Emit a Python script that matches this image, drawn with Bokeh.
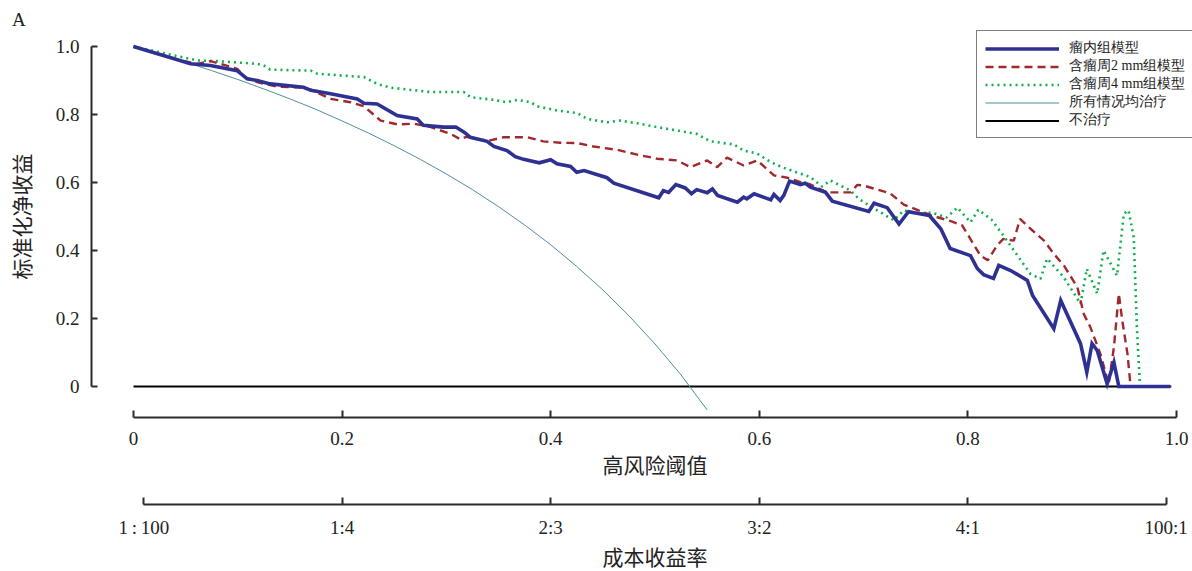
import numpy as np
from bokeh.plotting import figure
from bokeh.models import Range1d, LinearAxis, FixedTicker, Legend, LegendItem, Label
from bokeh.embed import file_html
from bokeh.resources import INLINE

# ---------------- data ----------------
intra_x = [0, 0.0547, 0.0738, 0.0994, 0.109, 0.1186, 0.131, 0.163, 0.170, 0.189, 0.2145, 0.2208,
           0.2336, 0.2528, 0.272, 0.278, 0.2975, 0.309, 0.317, 0.323, 0.339, 0.3455, 0.358, 0.366,
           0.374, 0.389, 0.400, 0.406, 0.419, 0.425, 0.432, 0.454, 0.4605, 0.5036, 0.508, 0.513,
           0.520, 0.529, 0.535, 0.540, 0.550, 0.555, 0.560, 0.579, 0.585, 0.588, 0.595, 0.611,
           0.614, 0.620, 0.6235, 0.629, 0.6395, 0.644, 0.649, 0.6635, 0.670, 0.705, 0.710, 0.7226,
           0.734, 0.743, 0.763, 0.774, 0.783, 0.8025, 0.809, 0.815, 0.8245, 0.8296, 0.841, 0.857,
           0.862, 0.8824, 0.889, 0.908, 0.914, 0.919, 0.924, 0.9335, 0.940, 0.9447, 0.994]
intra_y = [1.0, 0.949, 0.944, 0.929, 0.905, 0.900, 0.890, 0.880, 0.871, 0.861, 0.846, 0.833,
           0.831, 0.797, 0.787, 0.768, 0.763, 0.763, 0.748, 0.733, 0.721, 0.706, 0.694, 0.676,
           0.668, 0.658, 0.667, 0.655, 0.647, 0.630, 0.635, 0.614, 0.598, 0.555, 0.576, 0.571,
           0.594, 0.584, 0.567, 0.579, 0.570, 0.581, 0.562, 0.542, 0.557, 0.552, 0.567, 0.549,
           0.565, 0.547, 0.562, 0.604, 0.594, 0.598, 0.586, 0.571, 0.545, 0.515, 0.539, 0.526,
           0.478, 0.514, 0.503, 0.464, 0.406, 0.385, 0.347, 0.329, 0.318, 0.356, 0.341, 0.312,
           0.268, 0.170, 0.253, 0.126, 0.042, 0.126, 0.106, 0.008, 0.071, 0.0, 0.0]

peri2_x = [0, 0.045, 0.061, 0.0738, 0.0834, 0.0994, 0.107, 0.1186, 0.138, 0.163, 0.170, 0.189,
           0.208, 0.221, 0.237, 0.253, 0.269, 0.285, 0.304, 0.3135, 0.319, 0.333, 0.342, 0.355,
           0.3775, 0.393, 0.409, 0.4254, 0.441, 0.464, 0.483, 0.502, 0.521, 0.534, 0.550, 0.5596,
           0.569, 0.585, 0.598, 0.614, 0.627, 0.6395, 0.6475, 0.665, 0.6875, 0.694, 0.700, 0.7255,
           0.7385, 0.765, 0.785, 0.7945, 0.812, 0.819, 0.828, 0.834, 0.844, 0.850, 0.860, 0.873,
           0.8824, 0.892, 0.905, 0.911, 0.9175, 0.927, 0.935, 0.940, 0.9447, 0.948, 0.953, 0.956,
           0.994]
peri2_y = [1.0, 0.959, 0.949, 0.957, 0.949, 0.934, 0.910, 0.895, 0.882, 0.879, 0.873, 0.846,
           0.836, 0.824, 0.782, 0.771, 0.773, 0.763, 0.743, 0.727, 0.734, 0.726, 0.724, 0.733,
           0.733, 0.721, 0.717, 0.716, 0.706, 0.696, 0.682, 0.670, 0.665, 0.645, 0.665, 0.645,
           0.673, 0.650, 0.665, 0.621, 0.614, 0.601, 0.596, 0.571, 0.571, 0.593, 0.591, 0.568,
           0.535, 0.503, 0.485, 0.474, 0.385, 0.371, 0.415, 0.434, 0.429, 0.493, 0.464, 0.429,
           0.390, 0.356, 0.292, 0.214, 0.174, 0.096, 0.007, 0.116, 0.273, 0.194, 0.096, 0.0,
           0.0]

peri4_x = [0, 0.0386, 0.061, 0.080, 0.1186, 0.125, 0.131, 0.170, 0.176, 0.221, 0.2336, 0.2464,
           0.285, 0.3167, 0.323, 0.3455, 0.358, 0.368, 0.381, 0.387, 0.406, 0.4254, 0.435, 0.454,
           0.467, 0.483, 0.502, 0.521, 0.540, 0.553, 0.5756, 0.585, 0.598, 0.611, 0.6235, 0.6395,
           0.649, 0.660, 0.668, 0.6875, 0.6954, 0.708, 0.729, 0.7385, 0.7526, 0.765, 0.7795,
           0.790, 0.8025, 0.810, 0.8226, 0.834, 0.860, 0.8696, 0.876, 0.892, 0.908, 0.914, 0.924,
           0.930, 0.943, 0.9495, 0.954, 0.959, 0.962, 0.965, 0.994]
peri4_y = [1.0, 0.974, 0.959, 0.957, 0.949, 0.944, 0.932, 0.929, 0.920, 0.910, 0.890, 0.879,
           0.866, 0.866, 0.851, 0.843, 0.836, 0.843, 0.836, 0.824, 0.812, 0.804, 0.787, 0.777,
           0.782, 0.774, 0.763, 0.753, 0.743, 0.721, 0.712, 0.694, 0.685, 0.660, 0.643, 0.626,
           0.616, 0.588, 0.606, 0.576, 0.552, 0.527, 0.489, 0.518, 0.508, 0.512, 0.497,
           0.526, 0.483, 0.520, 0.491, 0.444, 0.331, 0.317, 0.376, 0.321, 0.243, 0.346, 0.273,
           0.400, 0.326, 0.508, 0.518, 0.439, 0.174, 0.0, 0.0]

treat_all_x = [0, 0.025, 0.05, 0.075, 0.1, 0.125, 0.15, 0.175, 0.2, 0.225, 0.25, 0.275, 0.3,
               0.325, 0.35, 0.375, 0.4, 0.425, 0.45, 0.475, 0.5, 0.525, 0.55]
treat_all_y = [1.000, 0.978, 0.954, 0.929, 0.903, 0.875, 0.846, 0.815, 0.781, 0.746, 0.708,
               0.668, 0.625, 0.579, 0.529, 0.475, 0.417, 0.353, 0.284, 0.208, 0.125, 0.034, -0.069]

treat_none_x = [0, 0.995]
treat_none_y = [0, 0]

series_names = ["瘤内组模型", "含瘤周2 mm组模型", "含瘤周4 mm组模型", "所有情况均治疗", "不治疗"]

threshold_ticks = [0, 0.2, 0.4, 0.6, 0.8, 1.0]
threshold_labels = ["0", "0.2", "0.4", "0.6", "0.8", "1.0"]
ratio_ticks = [0.0099, 0.2, 0.4, 0.6, 0.8, 0.99]
ratio_labels = ["1\u2009:\u2009100", "1:4", "2:3", "3:2", "4:1", "100:1"]
nb_ticks = [0, 0.2, 0.4, 0.6, 0.8, 1.0]
nb_labels = ["0", "0.2", "0.4", "0.6", "0.8", "1.0"]

# ---------------- figure ----------------
SERIF = "Liberation Serif"

p = figure(width=1192, height=571, output_backend="svg", toolbar_location=None,
           x_range=Range1d(-0.127517, 1.015340), y_range=Range1d(-0.544118, 1.135294),
           x_axis_type=None, y_axis_type=None, min_border=0,
           outline_line_color=None, background_fill_color="white", border_fill_color="white")

r_none = p.line(treat_none_x, treat_none_y, line_color="black", line_width=2)
r_all = p.line(treat_all_x, treat_all_y, line_color="#4f8ea0", line_width=1)
r_p4 = p.line(peri4_x, peri4_y, line_color="#12b04c", line_width=2.6, line_dash="2 4")
r_p2 = p.line(peri2_x, peri2_y, line_color="#a0292e", line_width=2.4, line_dash="8 5")
r_in = p.line(intra_x, intra_y, line_color="#2e3192", line_width=3.6, line_join="miter")


def style_axis(ax, tick_in, standoff):
    ax.axis_line_width = 2
    ax.axis_line_color = "#2b2b2b"
    ax.major_tick_line_width = 2
    ax.major_tick_line_color = "#2b2b2b"
    ax.major_tick_in = tick_in
    ax.major_tick_out = 0
    ax.minor_tick_in = 0
    ax.minor_tick_out = 0
    ax.major_label_text_font = SERIF
    ax.major_label_text_font_size = "19px"
    ax.major_label_text_color = "#222222"
    ax.major_label_standoff = standoff


x_axis = LinearAxis(fixed_location=-0.0912, ticker=FixedTicker(ticks=threshold_ticks),
                    major_label_overrides=dict(zip(threshold_ticks, threshold_labels)),
                    bounds=(0, 1))
style_axis(x_axis, 7, 14)
p.add_layout(x_axis, "below")

r_axis = LinearAxis(fixed_location=-0.3471, ticker=FixedTicker(ticks=ratio_ticks),
                    major_label_overrides=dict(zip(ratio_ticks, ratio_labels)),
                    bounds=(0.0099, 0.99))
style_axis(r_axis, 7, 12)
p.add_layout(r_axis, "below")

y_axis = LinearAxis(fixed_location=-0.0403, ticker=FixedTicker(ticks=nb_ticks),
                    major_label_overrides=dict(zip(nb_ticks, nb_labels)),
                    bounds=(0, 1))
style_axis(y_axis, 6, 12)
p.add_layout(y_axis, "left")

# titles
p.add_layout(Label(x=-0.110, y=1.079, text="A", text_font=SERIF, text_font_size="19px",
                   text_align="center", text_baseline="middle", text_color="#222222"))
p.add_layout(Label(x=-0.1083, y=0.5, text="标准化净收益", angle=np.pi / 2,
                   text_font="Noto Sans CJK SC", text_font_size="21px",
                   text_align="center", text_baseline="middle", text_color="#222222"))
p.add_layout(Label(x=0.5, y=-0.2265, text="高风险阈值", text_font="Noto Sans CJK SC",
                   text_font_size="21px", text_align="center", text_baseline="middle",
                   text_color="#222222"))
p.add_layout(Label(x=0.5, y=-0.5, text="成本收益率", text_font="Noto Sans CJK SC",
                   text_font_size="21px", text_align="center", text_baseline="middle",
                   text_color="#222222"))

legend = Legend(items=[LegendItem(label=series_names[0], renderers=[r_in]),
                       LegendItem(label=series_names[1], renderers=[r_p2]),
                       LegendItem(label=series_names[2], renderers=[r_p4]),
                       LegendItem(label=series_names[3], renderers=[r_all]),
                       LegendItem(label=series_names[4], renderers=[r_none])],
                location=(976, 433), glyph_width=74, glyph_height=17, label_height=17,
                label_standoff=10, padding=8, spacing=0, margin=0,
                border_line_color="black", border_line_width=1.5,
                label_text_font=SERIF, label_text_font_size="14px",
                label_text_color="#222222", background_fill_alpha=1)
p.add_layout(legend)

open("out.html", "w").write(file_html(p, INLINE))
